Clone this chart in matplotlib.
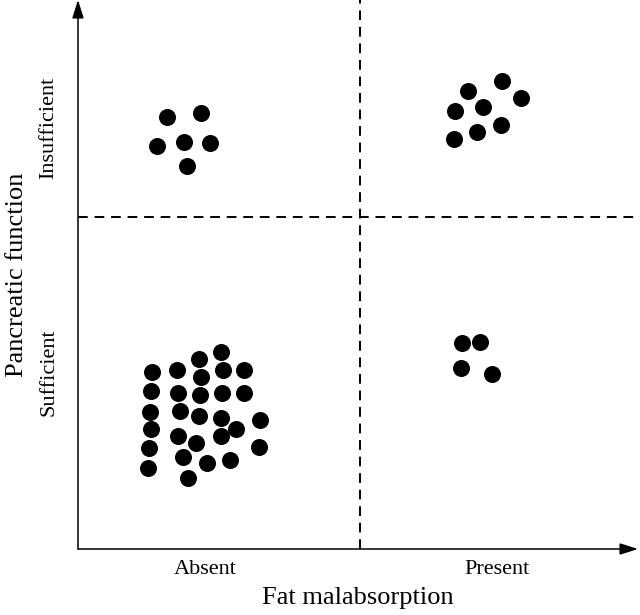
import matplotlib
matplotlib.use("Agg")
import matplotlib.pyplot as plt

# patient positions, 0-100 scale on both axes
absent_sufficient_x = [25.5, 21.6, 13.2, 17.7, 22.0, 25.9, 29.6, 13.0, 17.9, 21.8,
                       25.7, 29.6, 12.9, 18.2, 21.6, 25.5, 32.5, 13.0, 28.2, 17.9,
                       21.1, 25.5, 12.7, 32.3, 18.8, 23.0, 27.1, 12.5, 19.6]
absent_sufficient_y = [35.9, 34.6, 32.2, 32.6, 31.3, 32.6, 32.6, 28.8, 28.4, 28.1,
                       28.4, 28.4, 25.0, 25.1, 24.2, 23.9, 23.5, 21.9, 21.9, 20.6,
                       19.3, 20.6, 18.4, 18.6, 16.8, 15.7, 16.2, 14.8, 12.9]

absent_insufficient_x = [15.9, 22.0, 14.1, 18.9, 23.6, 19.5]
absent_insufficient_y = [78.7, 79.4, 73.4, 74.1, 74.0, 69.8]

present_insufficient_x = [75.7, 69.6, 79.1, 67.3, 72.3, 75.5, 71.3, 67.1]
present_insufficient_y = [85.2, 83.4, 82.1, 79.8, 80.5, 77.2, 76.0, 74.7]

present_sufficient_x = [68.6, 71.8, 68.4, 73.9]
present_sufficient_y = [37.5, 37.7, 33.0, 31.9]

x_split = 50.4
y_split = 60.5
x_labels = ["Absent", "Present"]
x_label_pos = [22.7, 74.8]
y_labels = ["Sufficient", "Insufficient"]
y_label_pos = [32.2, 76.7]

plt.rcParams["font.family"] = ["Liberation Serif", "DejaVu Serif"]

fig = plt.figure(figsize=(6.4, 6.15), dpi=100)
ax = fig.add_axes([78 / 640, 66 / 615, 560 / 640, 549 / 615])
ax.set_xlim(0, 100)
ax.set_ylim(0, 100)
for s in ax.spines.values():
    s.set_visible(False)

groups = [(absent_sufficient_x, absent_sufficient_y),
          (absent_insufficient_x, absent_insufficient_y),
          (present_insufficient_x, present_insufficient_y),
          (present_sufficient_x, present_sufficient_y)]
for gx, gy in groups:
    ax.scatter(gx, gy, s=150, color="black", linewidths=0, zorder=3)

# quadrant dividers
ax.plot([x_split, x_split], [0, 100], color="black", lw=1.4,
        linestyle=(0, (5, 3.5)), clip_on=False)
ax.plot([0, 100.4], [y_split, y_split], color="black", lw=1.4,
        linestyle=(0, (5, 3.5)), clip_on=False)

# arrow axes
arrow = dict(arrowstyle="-|>,head_length=1.1,head_width=0.35", color="black",
             lw=1.1, shrinkA=0, shrinkB=0)
ax.annotate("", xy=(1.0, 0), xytext=(0, 0), xycoords="axes fraction",
            arrowprops=arrow, annotation_clip=False)
ax.annotate("", xy=(0, 1.0), xytext=(0, 0), xycoords="axes fraction",
            arrowprops=arrow, annotation_clip=False)

ax.set_xticks(x_label_pos)
ax.set_xticklabels(x_labels, fontsize=16)
ax.set_yticks(y_label_pos)
ax.set_yticklabels(y_labels, fontsize=16, rotation=90, va="center")
ax.tick_params(length=0, pad=8)
ax.tick_params(axis="y", pad=14)

ax.set_xlabel("Fat malabsorption", fontsize=19, labelpad=6)
ax.set_ylabel("Pancreatic function", fontsize=19, labelpad=8)

fig.savefig("out.png", dpi=100, facecolor="white")
